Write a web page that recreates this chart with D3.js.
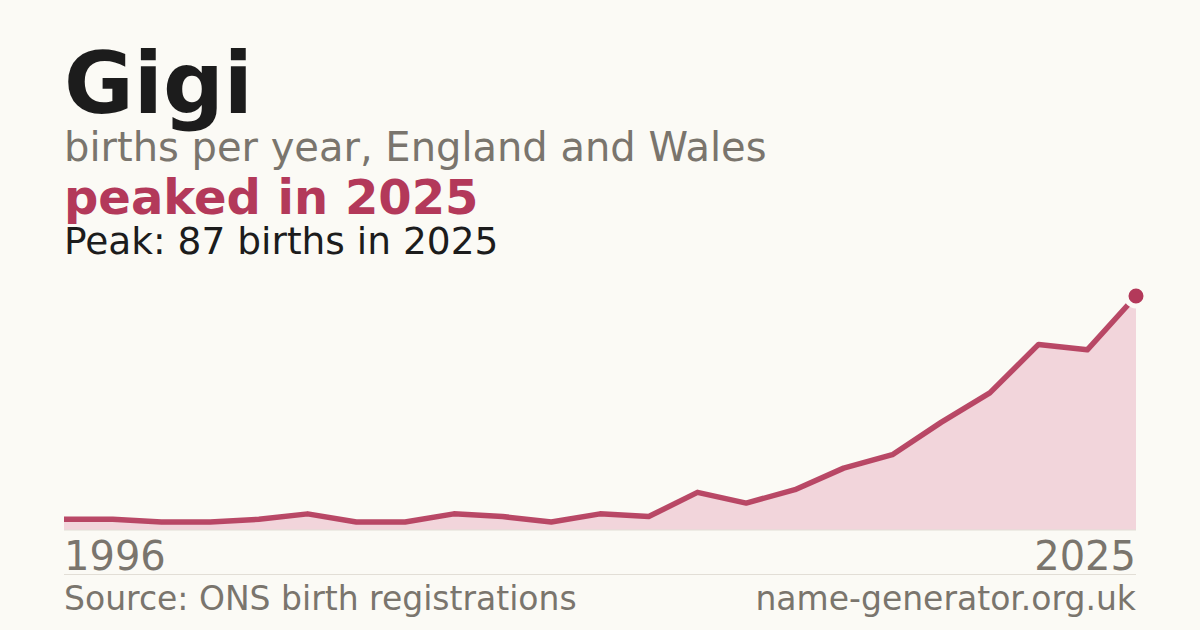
<!DOCTYPE html>
<html>
<head>
<meta charset="utf-8">
<script src="https://cdn.jsdelivr.net/npm/d3@7"></script>
<style>
  html, body { margin: 0; padding: 0; background: #fbfaf5; }
  svg { display: block; font-family: "DejaVu Sans", sans-serif; }
</style>
</head>
<body>
<svg id="chart" width="1200" height="630"></svg>
<script>
// data
const years = [1996, 1997, 1998, 2001, 2002, 2004, 2005, 2006, 2008, 2009, 2010,
  2014, 2015, 2016, 2017, 2018, 2019, 2020, 2021, 2022, 2023, 2024, 2025];
const births = [4, 4, 3, 3, 4, 6, 3, 3, 6, 5, 3, 6, 5, 14, 10, 15, 23, 28, 40, 51, 69, 67, 87];
const axisLabels = ['1996', '2025'];

const W = 1200, H = 630;
const plotLeft = 64, plotRight = 1136, plotTop = 296, plotBottom = 530;
const red = '#b3395a';
const grey = '#7a756d';

const svg = d3.select('#chart');
svg.append('rect').attr('width', W).attr('height', H).attr('fill', '#fbfaf5');

// headline texts
svg.append('text').attr('x', plotLeft).attr('y', 113)
  .attr('font-size', 85).attr('font-weight', 'bold').attr('fill', '#1c1c1c')
  .text('Gigi');
svg.append('text').attr('x', plotLeft).attr('y', 160.5)
  .attr('font-size', 40).attr('fill', grey)
  .text('births per year, England and Wales');
svg.append('text').attr('x', plotLeft).attr('y', 213.5)
  .attr('font-size', 48).attr('font-weight', 'bold').attr('fill', red)
  .text('peaked in 2025');
svg.append('text').attr('x', plotLeft).attr('y', 254)
  .attr('font-size', 37.5).attr('fill', '#1c1c1c')
  .text('Peak: 87 births in 2025');

// scales
const x = d3.scalePoint().domain(years).range([plotLeft, plotRight]);
const y = d3.scaleLinear().domain([0, d3.max(births)]).range([plotBottom, plotTop]);

const pts = years.map((yr, i) => ({ year: yr, value: births[i] }));

const area = d3.area()
  .x(d => x(d.year))
  .y0(y(0))
  .y1(d => y(d.value));
const line = d3.line()
  .x(d => x(d.year))
  .y(d => y(d.value));

svg.append('path').datum(pts)
  .attr('d', area)
  .attr('fill', '#f2d5db');

svg.append('line')
  .attr('x1', plotLeft).attr('x2', plotRight)
  .attr('y1', y(0)).attr('y2', y(0))
  .attr('stroke', '#e2ded6').attr('stroke-width', 1);

svg.append('path').datum(pts)
  .attr('d', line)
  .attr('fill', 'none')
  .attr('stroke', red)
  .attr('stroke-width', 5.5)
  .attr('stroke-linejoin', 'round')
  .attr('opacity', 0.92);

// peak marker
const last = pts[pts.length - 1];
svg.append('circle')
  .attr('cx', x(last.year)).attr('cy', y(last.value))
  .attr('r', 10)
  .attr('fill', red)
  .attr('stroke', '#fbfaf5')
  .attr('stroke-width', 5);

// year labels
svg.append('text').attr('x', plotLeft).attr('y', 569.5)
  .attr('font-size', 40).attr('fill', grey)
  .text(axisLabels[0]);
svg.append('text').attr('x', plotRight).attr('y', 569.5)
  .attr('font-size', 40).attr('fill', grey).attr('text-anchor', 'end')
  .text(axisLabels[1]);

// footer
svg.append('line')
  .attr('x1', plotLeft).attr('x2', plotRight)
  .attr('y1', 574.5).attr('y2', 574.5)
  .attr('stroke', '#e2ded6').attr('stroke-width', 1);
svg.append('text').attr('x', plotLeft).attr('y', 610)
  .attr('font-size', 33).attr('fill', grey)
  .text('Source: ONS birth registrations');
svg.append('text').attr('x', plotRight).attr('y', 610)
  .attr('font-size', 33).attr('fill', grey).attr('text-anchor', 'end')
  .text('name-generator.org.uk');
</script>
</body>
</html>
